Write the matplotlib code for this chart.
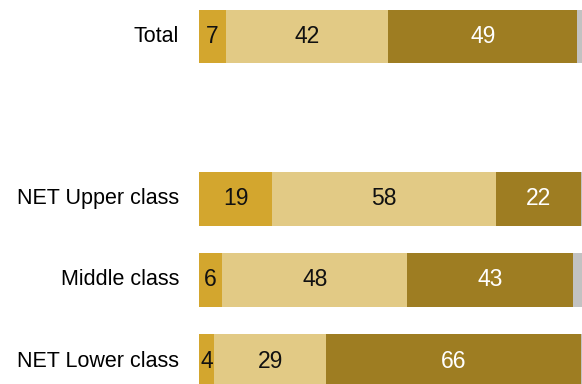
import matplotlib
matplotlib.use("Agg")
import matplotlib.pyplot as plt
import numpy as np

plt.rcParams['font.family'] = ['Liberation Sans', 'DejaVu Sans']

# Row labels and their vertical slots (slot 1 is left empty as a spacer)
groups = ["Total", "NET Upper class", "Middle class", "NET Lower class"]
slots = [0, 2, 3, 4]

# Shares per response category (percent)
first = [7, 19, 6, 4]
second = [42, 58, 48, 29]
third = [49, 22, 43, 66]
no_answer = [2, 1, 3, 1]

colors = ["#D3A62E", "#E2CA85", "#9E7D22", "#C2C2C2"]
text_colors = ["#111111", "#111111", "white", None]

fig = plt.figure(figsize=(5.82, 3.84), dpi=100)
W, H = 582, 384
# axes placed in pixel terms: x=0 at px 199, 100 at px 585; slot spacing ~81px
x0, x100 = 199, 585
top_px, bot_px = -4.1, 401.6
ax = fig.add_axes([x0 / W, (H - bot_px) / H, (x100 - x0) / W, (bot_px - top_px) / H])
ax.set_xlim(0, 100)
ax.set_ylim(4.5, -0.5)
ax.axis("off")

series = [first, second, third, no_answer]
left = np.zeros(len(groups))
bar_h = 0.66
for vals, col, tc in zip(series, colors, text_colors):
    vals = np.array(vals, dtype=float)
    ax.barh(slots, vals, left=left, height=bar_h, color=col, linewidth=0)
    if tc is not None:
        for y, l, v in zip(slots, left, vals):
            ax.text(l + v / 2, y, f"{int(v)}", ha="center", va="center",
                    fontsize=16.5, color=tc)
    left += vals

for y, g in zip(slots, groups):
    ax.text(-5.2, y, g, ha="right", va="center", fontsize=15.5, color="#000000")

fig.savefig("out.png", dpi=100)
